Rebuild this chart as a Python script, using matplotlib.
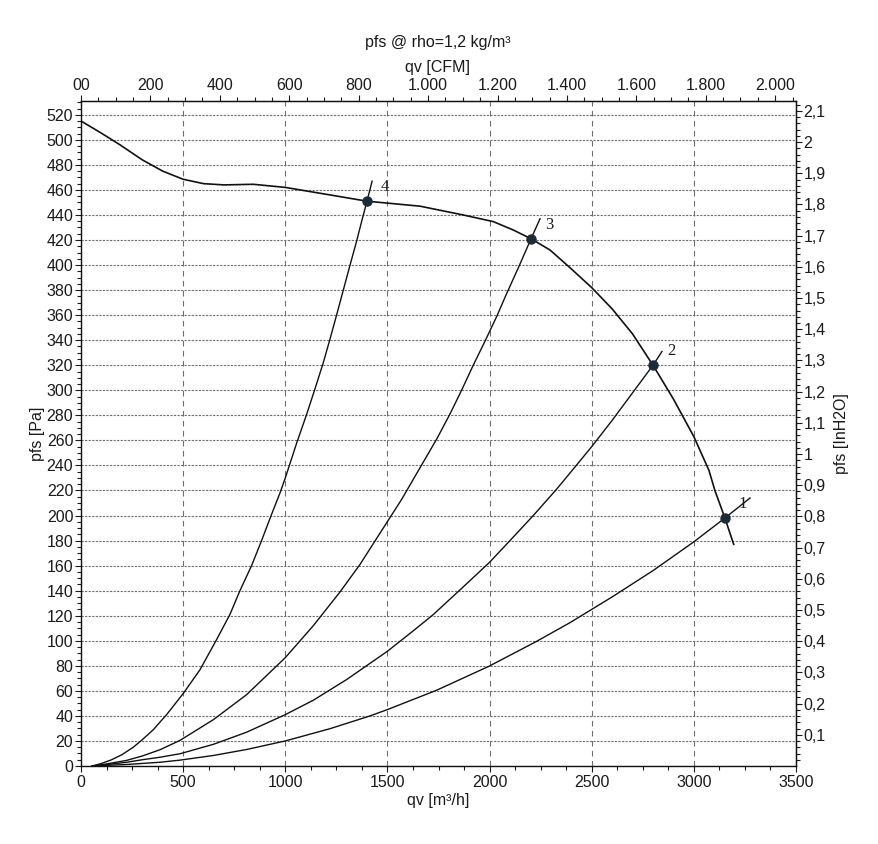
import matplotlib
matplotlib.use('Agg')
import matplotlib.pyplot as plt
from matplotlib.ticker import MultipleLocator, FixedLocator, FuncFormatter
import numpy as np

plt.rcParams['font.family'] = ['Liberation Sans', 'DejaVu Sans']

# fan curve pfs [Pa] over qv [m3/h]
fan_q = [0, 93, 191, 300, 400, 500, 600, 700, 843, 1000, 1219, 1400, 1660, 1871, 2018, 2116,
         2203, 2296, 2393, 2500, 2600, 2700, 2800, 2900, 3000, 3074, 3103, 3152, 3195]
fan_p = [515, 506, 496, 484, 475, 468.5, 465, 464, 464.5, 462, 456, 451, 447, 440, 434.7, 428,
         421, 412, 398, 382, 365, 345, 320, 293, 263, 236, 220, 198, 177]

# system curves 1..4
q1 = [55, 120, 224, 387, 485, 648, 811, 1000, 1219, 1415, 1499, 1741, 1999, 2230, 2394, 2600, 2800, 3000, 3152, 3275]
p1 = [0, 0.5, 1.2, 3, 4.7, 8.4, 13.2, 20, 29.8, 40, 45, 60.5, 79.8, 99.5, 114.5, 135, 156, 179, 198, 214]
q2 = [55, 120, 224, 300, 387, 485, 648, 811, 1000, 1137, 1300, 1415, 1499, 1627, 1725, 1871, 1999, 2100,
      2214, 2328, 2394, 2500, 2600, 2700, 2800, 2844]
p2 = [0, 1, 3, 5, 7, 9.8, 17.3, 27, 41, 52.5, 69, 82, 91.5, 108, 121, 143, 162.5, 180,
      200, 221, 234, 255, 276, 298, 320, 331]
q3 = [55, 120, 224, 300, 387, 485, 648, 811, 1000, 1137, 1268, 1366, 1464, 1570, 1659, 1741, 1806, 1863,
      1920, 1977, 2035, 2083, 2144, 2203, 2247]
p3 = [0, 1.5, 4.5, 8, 13, 20.5, 37, 57, 86.5, 112, 139, 161, 186, 213, 238, 261, 281, 300,
      320, 339, 359, 377, 399, 421, 437]
q4 = [55, 100, 150, 200, 256, 300, 354, 419, 501, 583, 664, 729, 778, 835, 884, 933, 974, 1000, 1056, 1105,
      1145, 1186, 1219, 1251, 1284, 1317, 1349, 1374, 1400, 1425]
p4 = [0, 2, 5, 9, 15, 21, 29, 41, 58, 77, 101, 121, 140, 160, 180, 201, 218, 230, 258, 281,
      301, 322, 341, 360, 380, 400, 419, 435, 451, 467]

# operating points
op_q = [3152, 2800, 2203, 1398]
op_p = [198, 320, 421, 451]
op_labels = ['1', '2', '3', '4']

# secondary axis ticks
cfm_ticks = [0, 200, 400, 600, 800, 1000, 1200, 1400, 1600, 1800, 2000]
inh2o_ticks = [0.1, 0.2, 0.3, 0.4, 0.5, 0.6, 0.7, 0.8, 0.9, 1.0, 1.1,
               1.2, 1.3, 1.4, 1.5, 1.6, 1.7, 1.8, 1.9, 2.0, 2.1]

CFM = 0.588578   # 1 m3/h in CFM
INH2O = 249.089  # 1 inH2O in Pa

fig = plt.figure(figsize=(8.79, 8.44), dpi=100)
ax = fig.add_axes([81/879, 1-766/844, 715/879, 665/844])
ax.set_xlim(0, 3500)
ax.set_ylim(0, 531)

tc = '#1a1a1a'
ax.xaxis.set_major_locator(MultipleLocator(500))
ax.xaxis.set_minor_locator(MultipleLocator(125))
ax.yaxis.set_major_locator(MultipleLocator(20))
ax.yaxis.set_minor_locator(MultipleLocator(5))
ax.tick_params(which='both', direction='out', colors=tc, labelsize=11.5, pad=1.5)
ax.tick_params(which='major', length=4, width=0.8)
ax.tick_params(which='minor', length=3, width=0.8)
ax.tick_params(axis='x', pad=2.5)
ax.tick_params(top=False, right=False)

ax.grid(axis='x', which='major', color='#6e6e6e', linestyle=(0, (5, 4)), linewidth=0.8)
ax.grid(axis='y', which='major', color='#6e6e6e', linestyle=(0, (2, 1.2)), linewidth=0.8)
for s in ax.spines.values():
    s.set_linewidth(1.0)
    s.set_color('#111111')

ax.plot(fan_q, fan_p, color='#111111', lw=1.2, solid_joinstyle='round')
for q, p in [(q1, p1), (q2, p2), (q3, p3), (q4, p4)]:
    ax.plot(q, p, color='#111111', lw=1.0, solid_joinstyle='round')
ax.plot(op_q, op_p, 'o', ms=6.5, color='#1c2b36', zorder=5)
for q, p, t in zip(op_q, op_p, op_labels):
    ax.annotate(t, (q, p), xytext=(13, 10), textcoords='offset points', ha='center', va='center',
                fontsize=12, family=['Liberation Serif', 'DejaVu Serif'], color=tc)

# top axis CFM
top = ax.secondary_xaxis('top', functions=(lambda x: x*CFM, lambda x: x/CFM))
top.xaxis.set_major_locator(FixedLocator(cfm_ticks))
top.xaxis.set_minor_locator(FixedLocator(np.arange(50, 2060, 50)))
top.xaxis.set_major_formatter(FuncFormatter(
    lambda v, pos: '00' if abs(v) < 1e-6 else '{:,}'.format(int(round(v))).replace(',', '.')))
top.tick_params(which='both', direction='out', colors=tc, labelsize=11.5, pad=1.5)
top.tick_params(which='major', length=4, width=0.8)
top.tick_params(which='minor', length=3, width=0.8)

# right axis inH2O
right = ax.secondary_yaxis('right', functions=(lambda y: y/INH2O, lambda y: y*INH2O))
right.yaxis.set_major_locator(FixedLocator(inh2o_ticks))
right.yaxis.set_minor_locator(FixedLocator(np.arange(0.02, 2.13, 0.02)))
right.yaxis.set_major_formatter(FuncFormatter(
    lambda v, pos: ('%g' % round(v, 2)).replace('.', ',')))
right.tick_params(which='both', direction='out', colors=tc, labelsize=11.5, pad=1.5)
right.tick_params(which='major', length=4, width=0.8)
right.tick_params(which='minor', length=3, width=0.8)

ax.text(0.499, -0.0526, 'qv [m³/h]', transform=ax.transAxes, ha='center', va='center', fontsize=11.5, color=tc)
ax.text(-0.0615, 0.5, 'pfs [Pa]', transform=ax.transAxes, ha='center', va='center', rotation=90, fontsize=11.5, color=tc)
ax.text(1.064, 0.5, 'pfs [InH2O]', transform=ax.transAxes, ha='center', va='center', rotation=90, fontsize=11.5, color=tc)
ax.text(0.499, 1.0511, 'qv [CFM]', transform=ax.transAxes, ha='center', va='center', fontsize=11.5, color=tc)
ax.text(0.499, 1.0887, 'pfs @ rho=1,2 kg/m³', transform=ax.transAxes, ha='center', va='center', fontsize=11.5, color=tc)

fig.savefig('out.png', dpi=100)
